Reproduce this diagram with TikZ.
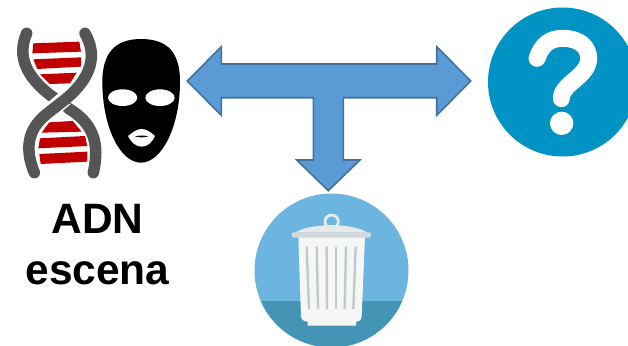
\documentclass[tikz,border=0pt]{standalone}
\usepackage{fontspec}
\setmainfont{Liberation Sans}
\usepackage{xcolor}
\definecolor{arrowblue}{HTML}{5B9BD5}
\definecolor{arrowedge}{HTML}{41719C}
\definecolor{helixgray}{HTML}{555555}
\definecolor{helixred}{HTML}{C00000}
\definecolor{askblue}{HTML}{0093C4}
\definecolor{binsky}{HTML}{6BB5E0}
\definecolor{binfloor}{HTML}{4495B5}
\definecolor{binwhite}{HTML}{F5F7F6}
\definecolor{binlid}{HTML}{E6EAEC}
\definecolor{binband}{HTML}{D3D8DB}
\definecolor{binrib}{HTML}{C3C8CA}
\tikzset{
  bigarrow/.style={draw=arrowedge,fill=arrowblue,line width=1.6pt,miter limit=10},
  strand/.style={draw=helixgray,line width=11.5pt,line cap=round},
  rung/.style={fill=helixred},
}
\begin{document}
\begin{tikzpicture}[x=1pt,y=-1pt]
\useasboundingbox (0,0) rectangle (628,345);
\clip (0,0) rectangle (628,345);
% DNA helix, numbers read off the 3x crop
\begin{scope}[shift={(0,10)},scale=1/3]
\foreach \pts in {{(100,100)--(238,95)--(243,125)--(97,130)},
  {(100,148)--(243,142)--(243,170)--(112,177)},
  {(120,193)--(230,188)--(210,220)--(150,222)},
  {(148,337)--(218,333)--(245,365)--(125,368)},
  {(120,385)--(255,378)--(262,408)--(115,415)},
  {(118,432)--(262,425)--(262,455)--(122,462)}}{
  \fill[rung] \pts -- cycle;
}
\draw[strand] (80,70) .. controls (50,140) and (80,200) .. (150,255) -- (175,272);
\draw[strand] (205,295) .. controls (280,340) and (300,400) .. (280,488);
\draw[white,line width=16pt] (195,265) -- (140,312);
\draw[strand] (255,70) .. controls (295,140) and (270,205) .. (200,265)
  -- (140,312) .. controls (80,360) and (75,420) .. (103,488);
\end{scope}
% mask
\begin{scope}[shift={(0,10)},scale=1/3]
\fill[black] (423,87) .. controls (505,87) and (540,130) .. (540,215)
  .. controls (540,350) and (485,458) .. (423,458)
  .. controls (360,458) and (307,350) .. (307,215)
  .. controls (307,130) and (345,87) .. (423,87) -- cycle;
\fill[white] (368,263) ellipse [x radius=44,y radius=25];
\fill[white] (480,263) ellipse [x radius=44,y radius=25];
\fill[white] (384,378) .. controls (400,365) and (412,357) .. (425,357)
  .. controls (438,357) and (450,365) .. (465,378)
  .. controls (455,400) and (440,410) .. (425,410)
  .. controls (410,410) and (395,400) .. (384,378) -- cycle;
\fill[black] (405,379) .. controls (415,376) and (435,376) .. (445,379)
  .. controls (435,383) and (415,383) .. (405,379) -- cycle;
\end{scope}
\node[align=center,font=\bfseries\fontsize{42.5}{51}\selectfont,inner sep=0pt]
  (adnlabel) at (97.5,245) {ADN\\escena};
% arrows
\draw[bigarrow] (187.3,81) -- (221.3,46.7) -- (221.3,64) -- (436.7,64)
  -- (436.7,46.7) -- (470.7,81) -- (436.7,115.3) -- (436.7,97.7)
  -- (343.3,97.7) -- (343.3,160) -- (360,160) -- (328.3,190.7)
  -- (296.7,160) -- (313.3,160) -- (313.3,97.7) -- (221.3,97.7)
  -- (221.3,115.3) -- cycle;
% question mark
\fill[askblue] (562.5,82) circle (74.5);
\begin{scope}[shift={(480,5)},scale=1/3]
\draw[white,line width=17pt,line cap=round,line join=round]
  (171,160) .. controls (186,118) and (210,100) .. (248,100)
  .. controls (298,100) and (326,125) .. (326,160)
  .. controls (326,215) and (244,235) .. (244,281);
\fill[white] (245,355) circle (35);
\end{scope}
% trash can
\fill[binsky] (331.5,270.5) circle (77);
\begin{scope}
\clip (331.5,270.5) circle (77);
\fill[binfloor] (240,300.7) rectangle (420,350);
\end{scope}
\begin{scope}[shift={(240,200)},scale=1/3]
\draw[binlid,line width=2.8pt] (275,65) circle (20);
\fill[binlid] (165,98) .. controls (210,68) and (340,68) .. (382,98) -- cycle;
\fill[binwhite] (175,110) -- (375,110) -- (365,350)
  .. controls (364,360) and (358,364) .. (348,365) -- (348,377) -- (203,377)
  -- (203,365) .. controls (192,364) and (185,360) .. (183,350) -- cycle;
\fill[rounded corners=2pt,binband] (155,97) rectangle (393,113);
\foreach \xa/\xb in {200/207,230/234,260/261,288/288,318/314,347/340}{
  \draw[binrib,line width=2.4pt] (\xa,140) -- (\xb,327);
}
\end{scope}
\end{tikzpicture}
\end{document}
